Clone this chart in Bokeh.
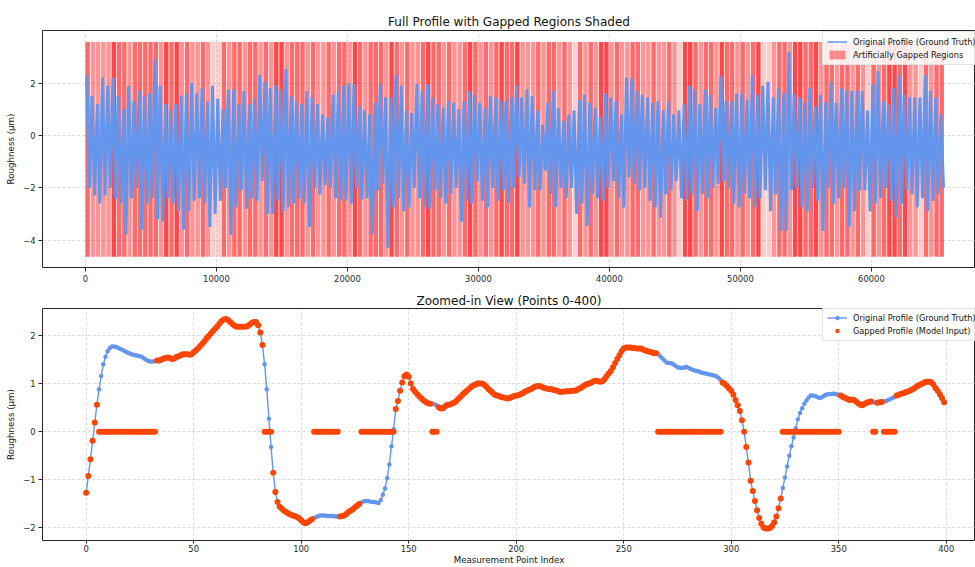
import numpy as np
from bokeh.plotting import figure
from bokeh.models import Range1d, ColumnDataSource, Legend, LegendItem, FixedTicker
from bokeh.layouts import column
from bokeh.embed import file_html
from bokeh.resources import INLINE

FONT = "DejaVu Sans"
BLUE = "#6495ED"
ORANGE = "#FF4500"
RED = "#FF0000"

# ---------------- full profile: 65 536 points, summarised per 400-point block ----------------
N_POINTS = 65536
BLOCK = 400

block_high = [
    2.3, 1.5, 1.2, 2.2, 1.9, 2.2, 1.5, 1.0, 1.9, 1.3, 1.7, 1.5, 1.6, 2.9, 1.9, 1.2, 1.0, 1.2, 1.5, 1.6,
    2.0, 1.6, 1.8, 1.3, 1.9, 1.4, 1.0, 1.75, 1.75, 1.2, 1.7, 1.2, 1.4, 2.3, 2.05, 1.8, 1.9, 1.75, 2.55, 1.5,
    1.3, 1.2, 1.7, 1.45, 1.2, 0.8, 0.7, 1.55, 1.7, 1.9, 2.0, 1.95, 1.1, 0.95, 0.8, 1.25, 1.95, 1.45, 1.45, 2.3,
    1.9, 0.95, 0.85, 1.95, 1.7, 1.95, 1.45, 1.2, 1.05, 1.3, 1.25, 1.0, 1.3, 1.7, 1.55, 1.25, 1.05, 1.5, 1.45, 1.35,
    1.3, 1.45, 1.9, 1.45, 1.75, 1.5, 0.95, 0.4, 1.25, 1.7, 1.05, 0.55, 0.8, 0.95, 1.35, 1.55, 1.25, 1.05, 0.7, 1.6,
    1.45, 1.3, 0.8, 2.2, 2.15, 1.7, 1.55, 1.45, 1.25, 1.3, 0.95, 1.3, 0.8, 0.95, 1.2, 1.9, 1.75, 1.2, 1.75, 1.55,
    1.05, 2.25, 1.3, 1.3, 1.6, 1.6, 1.35, 2.3, 1.55, 1.9, 2.05, 1.45, 1.8, 1.6, 3.2, 1.55, 1.45, 1.25, 1.8, 1.1,
    1.55, 1.25, 2.05, 1.25, 1.8, 1.7, 1.7, 1.7, 1.7, 0.95, 1.95, 2.45, 1.3, 1.2, 1.8, 2.3, 1.55, 1.45, 1.45, 1.45,
    2.3, 1.7, 1.45, 0.8,
]
block_low = [
    -2.0, -2.3, -2.6, -2.3, -2.0, -2.4, -2.6, -3.8, -2.4, -2.0, -3.6, -2.6, -2.4, -3.2, -3.3, -2.4, -2.6, -2.9, -3.6, -2.9,
    -2.5, -2.4, -2.6, -3.5, -3.0, -2.5, -2.0, -3.8, -2.75, -2.1, -2.8, -2.4, -2.5, -1.75, -3.0, -3.0, -2.5, -2.9, -2.75, -2.6,
    -2.4, -2.6, -3.5, -2.0, -2.25, -1.9, -2.0, -2.4, -2.5, -2.45, -2.6, -2.0, -2.45, -2.4, -3.8, -2.1, -1.85, -4.3, -2.75, -2.4,
    -2.9, -2.75, -2.0, -2.4, -2.75, -2.8, -2.1, -2.4, -2.6, -2.25, -2.0, -3.3, -2.5, -2.6, -1.75, -2.5, -2.75, -2.0, -2.5, -2.1,
    -2.6, -2.0, -1.6, -1.85, -2.75, -2.1, -2.1, -1.35, -2.25, -2.75, -2.0, -2.4, -2.0, -3.0, -2.6, -3.45, -2.25, -2.4, -2.5, -2.0,
    -1.75, -2.4, -2.75, -1.6, -1.85, -2.1, -2.0, -2.5, -2.75, -3.15, -2.25, -2.1, -1.75, -2.4, -2.5, -2.25, -2.9, -2.25, -2.4, -2.0,
    -1.85, -1.75, -2.0, -2.6, -2.75, -2.25, -2.4, -2.75, -2.4, -2.1, -2.9, -2.25, -3.65, -3.65, -2.1, -2.0, -2.75, -2.9, -2.0, -2.5,
    -3.65, -2.0, -2.6, -2.4, -2.0, -3.5, -2.9, -2.1, -2.1, -2.9, -2.6, -2.4, -2.0, -2.5, -3.15, -2.6, -2.1, -2.25, -2.75, -2.4,
    -2.9, -2.5, -2.25, -2.0,
]
# share of each block that was blanked out: 0 none, 1 light, 2 medium, 3 heavy
gap_density = [
    2, 1, 1, 1, 1, 3, 2, 2, 1, 2, 2, 2, 2, 2, 1, 3, 2, 3, 1, 2, 1, 1, 2, 1, 0, 0, 2, 1, 2, 2, 1, 2, 2, 1, 2, 1, 3, 3, 1, 2, 2,
    2, 1, 2, 1, 1, 2, 1, 2, 2, 1, 3, 2, 1, 2, 2, 2, 1, 3, 2, 1, 2, 1, 1, 2, 3, 2, 2, 1, 2, 1, 1, 2, 3, 2, 1, 2, 1, 2, 3, 2, 2,
    3, 1, 1, 1, 2, 1, 2, 2, 1, 2, 1, 0, 2, 1, 2, 1, 3, 3, 1, 2, 1, 1, 2, 2, 1, 1, 2, 1, 1, 2, 1, 0, 3, 3, 2, 1, 2, 2, 1, 3, 2,
    2, 1, 2, 1, 2, 3, 0, 0, 1, 2, 2, 1, 3, 3, 2, 2, 3, 1, 2, 2, 1, 2, 2, 1, 2, 1, 0, 2, 1, 2, 3, 3, 2, 3, 1, 1, 0, 2, 1, 2, 2,
]
shade_bottom, shade_top = -4.64, 3.57

# ---------------- first 400 measurement points ----------------
zoom_profile = [
    -1.27, -0.92, -0.57, -0.19, 0.19, 0.56, 0.88, 1.16, 1.40, 1.56, 1.67, 1.74, 1.77, 1.77, 1.76, 1.74, 1.72, 1.70, 1.67, 1.65,
    1.63, 1.61, 1.60, 1.59, 1.58, 1.57, 1.55, 1.52, 1.49, 1.47, 1.46, 1.46, 1.47, 1.48, 1.48, 1.50, 1.52, 1.53, 1.54, 1.53,
    1.51, 1.52, 1.55, 1.57, 1.59, 1.61, 1.61, 1.61, 1.60, 1.61, 1.65, 1.69, 1.73, 1.78, 1.83, 1.88, 1.94, 1.99, 2.04, 2.09,
    2.14, 2.19, 2.25, 2.30, 2.33, 2.34, 2.32, 2.28, 2.24, 2.20, 2.18, 2.18, 2.18, 2.18, 2.18, 2.19, 2.22, 2.26, 2.28, 2.28,
    2.21, 2.06, 1.80, 1.40, 0.88, 0.27, -0.32, -0.85, -1.25, -1.46, -1.56, -1.60, -1.64, -1.67, -1.70, -1.72, -1.74, -1.75, -1.77, -1.80,
    -1.84, -1.88, -1.90, -1.88, -1.85, -1.82, -1.79, -1.77, -1.75, -1.74, -1.74, -1.74, -1.75, -1.75, -1.75, -1.75, -1.76, -1.76, -1.76, -1.75,
    -1.74, -1.71, -1.67, -1.64, -1.61, -1.57, -1.54, -1.50, -1.47, -1.45, -1.44, -1.44, -1.45, -1.46, -1.46, -1.47, -1.48, -1.42, -1.31, -1.18,
    -0.96, -0.68, -0.30, 0.05, 0.47, 0.64, 0.85, 1.02, 1.15, 1.19, 1.14, 1.00, 0.89, 0.83, 0.78, 0.73, 0.69, 0.65, 0.62, 0.59,
    0.58, 0.58, 0.57, 0.55, 0.51, 0.48, 0.49, 0.53, 0.56, 0.56, 0.58, 0.60, 0.63, 0.68, 0.72, 0.77, 0.81, 0.85, 0.89, 0.93,
    0.96, 0.98, 1.00, 1.00, 1.00, 0.98, 0.94, 0.89, 0.85, 0.81, 0.77, 0.75, 0.74, 0.72, 0.71, 0.70, 0.69, 0.70, 0.72, 0.74,
    0.75, 0.76, 0.78, 0.80, 0.83, 0.85, 0.87, 0.89, 0.92, 0.94, 0.95, 0.95, 0.93, 0.91, 0.90, 0.89, 0.89, 0.87, 0.86, 0.85,
    0.83, 0.83, 0.83, 0.84, 0.84, 0.84, 0.85, 0.85, 0.86, 0.89, 0.91, 0.94, 0.97, 0.99, 1.00, 1.02, 1.05, 1.06, 1.05, 1.04,
    1.05, 1.09, 1.15, 1.21, 1.26, 1.34, 1.43, 1.51, 1.59, 1.67, 1.73, 1.75, 1.75, 1.75, 1.74, 1.74, 1.73, 1.73, 1.73, 1.71,
    1.69, 1.67, 1.66, 1.65, 1.63, 1.63, 1.61, 1.57, 1.52, 1.48, 1.44, 1.43, 1.42, 1.40, 1.37, 1.34, 1.33, 1.33, 1.33, 1.35,
    1.33, 1.31, 1.29, 1.27, 1.26, 1.25, 1.23, 1.22, 1.21, 1.20, 1.19, 1.18, 1.17, 1.15, 1.12, 1.08, 1.02, 0.99, 0.95, 0.90,
    0.85, 0.77, 0.66, 0.55, 0.43, 0.24, 0.00, -0.32, -0.64, -1.02, -1.23, -1.44, -1.63, -1.79, -1.91, -1.99, -2.01, -2.01, -2.00, -1.96,
    -1.88, -1.76, -1.59, -1.39, -1.17, -0.95, -0.72, -0.50, -0.30, -0.12, 0.07, 0.26, 0.39, 0.49, 0.58, 0.65, 0.71, 0.75, 0.75, 0.74,
    0.72, 0.70, 0.71, 0.74, 0.77, 0.78, 0.78, 0.79, 0.79, 0.78, 0.77, 0.75, 0.72, 0.70, 0.68, 0.66, 0.67, 0.66, 0.63, 0.59,
    0.56, 0.55, 0.58, 0.60, 0.62, 0.63, 0.61, 0.60, 0.60, 0.61, 0.62, 0.63, 0.64, 0.66, 0.68, 0.70, 0.72, 0.75, 0.77, 0.79,
    0.80, 0.82, 0.83, 0.85, 0.87, 0.90, 0.93, 0.96, 0.98, 1.00, 1.03, 1.04, 1.04, 1.03, 0.98, 0.91, 0.85, 0.78, 0.70, 0.61,
]
# inclusive index runs that were blanked (set to zero) in the model input
gap_spans = [(6, 32), (83, 86), (106, 117), (128, 143), (161, 163),
             (266, 295), (324, 350), (366, 367), (371, 376)]

TICK_PX = "8.4px"
LABEL_PX = "8.7px"


def style(p, xticks, yticks):
    p.outline_line_color = "#262626"
    p.outline_line_width = 1
    p.title.text_font = FONT
    p.title.text_font_size = "12px"
    p.title.text_font_style = "normal"
    p.title.align = "center"
    p.title.text_color = "#111111"
    for ax in (p.xaxis[0], p.yaxis[0]):
        ax.axis_line_color = None
        ax.major_tick_line_color = "#262626"
        ax.major_tick_in = 0
        ax.major_tick_out = 4
        ax.minor_tick_line_color = None
        ax.major_label_text_font = FONT
        ax.major_label_text_font_size = TICK_PX
        ax.major_label_text_color = "#262626"
        ax.major_label_standoff = 3
        ax.axis_label_text_font = FONT
        ax.axis_label_text_font_size = LABEL_PX
        ax.axis_label_text_font_style = "normal"
        ax.axis_label_text_color = "#111111"
        ax.axis_label_standoff = 4
    p.xaxis[0].ticker = FixedTicker(ticks=xticks)
    p.yaxis[0].ticker = FixedTicker(ticks=yticks)
    p.yaxis[0].major_label_overrides = {t: ("\u2212" + str(abs(t))) for t in yticks if t < 0}
    for g in (p.xgrid[0], p.ygrid[0]):
        g.grid_line_color = "#b0b0b0"
        g.grid_line_alpha = 0.6
        g.grid_line_dash = "3 2"
        g.grid_line_width = 0.8


def style_legend(leg):
    leg.label_text_font = FONT
    leg.label_text_font_size = "8.2px"
    leg.label_text_color = "#111111"
    leg.border_line_color = "#cccccc"
    leg.border_line_width = 1
    leg.background_fill_alpha = 0.85
    leg.padding = 4
    leg.spacing = 2
    leg.margin = 0
    leg.glyph_width = 20
    leg.glyph_height = 11
    leg.label_height = 11
    leg.label_standoff = 6


# ---------------- top: full profile with gapped blocks shaded ----------------
TOP_FRAME_H = 237
top = figure(width=975, height=290, output_backend="svg", toolbar_location=None,
             x_range=Range1d(-3277, 67944), y_range=Range1d(-5.05, 4.01),
             min_border_left=42, min_border_right=0, min_border_top=30, min_border_bottom=23,
             title="Full Profile with Gapped Regions Shaded")
top.title.standoff = 4
style(top, list(range(0, 70000, 10000)), [-4, -2, 0, 2])
top.yaxis[0].axis_label = "Roughness (\u00b5m)"

n_blocks = len(gap_density)
starts = np.arange(n_blocks) * BLOCK
ends = np.minimum(starts + 0.85 * BLOCK, N_POINTS - 1)
alpha_for_level = {0: 0.2, 1: 0.42, 2: 0.58, 3: 0.72}
shade_src = ColumnDataSource(dict(
    left=starts, right=ends,
    bottom=[shade_bottom] * n_blocks, top=[shade_top] * n_blocks,
    alpha=[alpha_for_level[g] for g in gap_density],
))
shade = top.quad(left="left", right="right", bottom="bottom", top="top", source=shade_src,
                 fill_color=RED, fill_alpha="alpha", line_color=None)

trace_x, trace_y = [], []
for k, (hi, lo) in enumerate(zip(block_high, block_low)):
    trace_x += [k * BLOCK + 0.25 * BLOCK, k * BLOCK + 0.75 * BLOCK]
    trace_y += [hi, lo]
# thin copy underneath the dense trace: it gives the legend a thin line sample
trace_thin = top.line(trace_x, trace_y, line_color=BLUE, line_width=1.5)
top.line(trace_x, trace_y, line_color=BLUE, line_width=3.0)

light_block = gap_density.index(1)
top_legend = Legend(items=[
    LegendItem(label="Original Profile (Ground Truth)", renderers=[trace_thin]),
    LegendItem(label="Artificially Gapped Regions", renderers=[shade], index=light_block),
], location=(780, TOP_FRAME_H - 3 - 32))
style_legend(top_legend)
top.add_layout(top_legend)

# ---------------- bottom: first 400 points ----------------
bottom = figure(width=975, height=277, output_backend="svg", toolbar_location=None,
                x_range=Range1d(-20.3, 413.6), y_range=Range1d(-2.26, 2.56),
                min_border_left=42, min_border_right=0, min_border_top=15, min_border_bottom=25,
                title="Zoomed-in View (Points 0-400)")
bottom.title.standoff = 2
style(bottom, list(range(0, 401, 50)), [-2, -1, 0, 1, 2])
bottom.yaxis[0].axis_label = "Roughness (\u00b5m)"
bottom.xaxis[0].axis_label = "Measurement Point Index"
bottom.xaxis[0].major_tick_out = 3
bottom.xaxis[0].major_label_standoff = 1
bottom.xaxis[0].axis_label_standoff = 0

idx = np.arange(len(zoom_profile))
truth = np.array(zoom_profile, dtype=float)
gapped = truth.copy()
for a, b in gap_spans:
    gapped[a:b + 1] = 0.0

src = ColumnDataSource(dict(idx=idx, truth=truth, gapped=gapped))
r_line = bottom.line("idx", "truth", source=src, line_color=BLUE, line_width=1.4)
r_pts = bottom.scatter("idx", "truth", source=src, size=4.5, fill_color=BLUE, line_color=None)
r_gap = bottom.scatter("idx", "gapped", source=src, size=6, fill_color=ORANGE, line_color=None)

bottom_legend = Legend(items=[
    LegendItem(label="Original Profile (Ground Truth)", renderers=[r_line, r_pts]),
    LegendItem(label="Gapped Profile (Model Input)", renderers=[r_gap]),
], location=(780, 199))
style_legend(bottom_legend)
bottom.add_layout(bottom_legend)

layout = column(top, bottom, spacing=0)
open("out.html", "w").write(file_html(layout, INLINE))
